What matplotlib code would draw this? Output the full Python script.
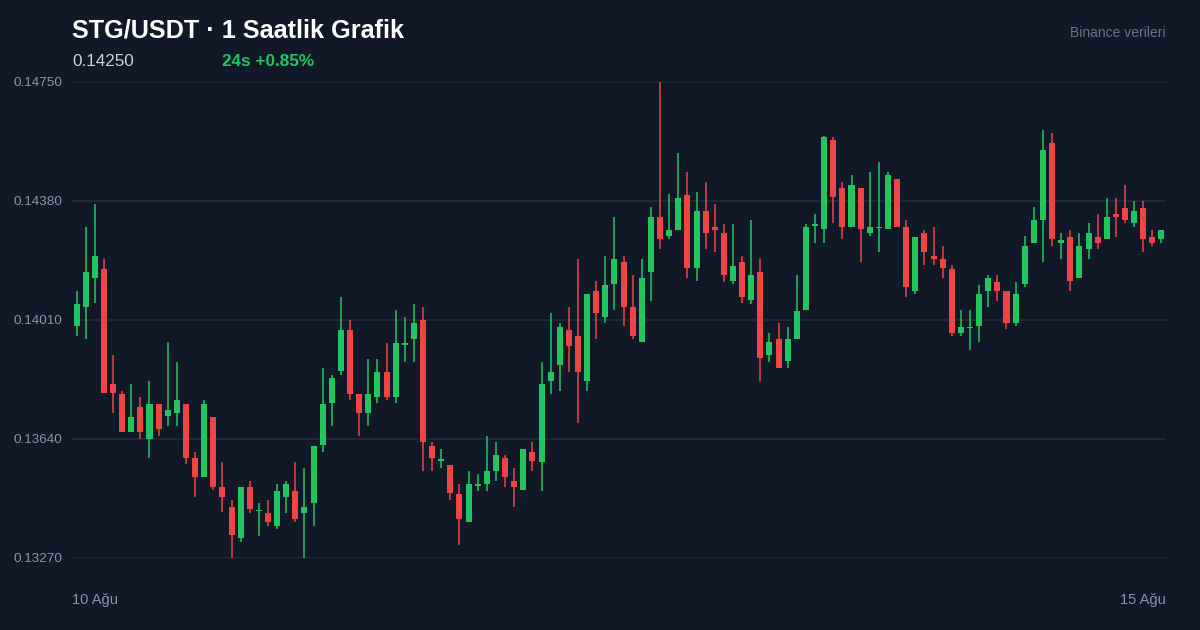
import matplotlib.pyplot as plt
import numpy as np

plt.rcParams['font.family'] = ['Liberation Sans', 'DejaVu Sans']

# hourly OHLC, 10 Ağu -> 15 Ağu (120 bars)
opens = [0.13991, 0.14050, 0.14140, 0.14168, 0.13811, 0.13780, 0.13662, 0.13739, 0.13640, 0.13749,
         0.13711, 0.13721, 0.13749, 0.13581, 0.13522, 0.13708, 0.13490, 0.13428, 0.13332, 0.13490,
         0.13416, 0.13410, 0.13369, 0.13459, 0.13478, 0.13410, 0.13441, 0.13621, 0.13752, 0.13851,
         0.13979, 0.13780, 0.13721, 0.13770, 0.13848, 0.13770, 0.13932, 0.13951, 0.14010, 0.13618,
         0.13571, 0.13559, 0.13469, 0.13382, 0.13494, 0.13500, 0.13540, 0.13581, 0.13509, 0.13481,
         0.13599, 0.13568, 0.13820, 0.13870, 0.13979, 0.13960, 0.13820, 0.14100, 0.14019, 0.14122,
         0.14190, 0.14050, 0.13941, 0.14159, 0.14330, 0.14271, 0.14290, 0.14399, 0.14172, 0.14349,
         0.14299, 0.14280, 0.14131, 0.14190, 0.14072, 0.14159, 0.13901, 0.13951, 0.13882, 0.13951,
         0.14041, 0.14302, 0.14293, 0.14570, 0.14420, 0.14299, 0.14420, 0.14280, 0.14296, 0.14293,
         0.14448, 0.14299, 0.14100, 0.14280, 0.14209, 0.14200, 0.14168, 0.13969, 0.13985, 0.13991,
         0.14100, 0.14128, 0.14100, 0.14000, 0.14122, 0.14249, 0.14321, 0.14560, 0.14249, 0.14268,
         0.14140, 0.14231, 0.14268, 0.14262, 0.14340, 0.14358, 0.14312, 0.14358, 0.14268, 0.14262]
highs = [0.14100, 0.14299, 0.14371, 0.14200, 0.13901, 0.13789, 0.13811, 0.13770, 0.13820, 0.13749,
         0.13941, 0.13879, 0.13749, 0.13599, 0.13761, 0.13708, 0.13568, 0.13450, 0.13490, 0.13509,
         0.13441, 0.13450, 0.13500, 0.13509, 0.13568, 0.13550, 0.13618, 0.13861, 0.13839, 0.14081,
         0.14010, 0.13780, 0.13889, 0.13889, 0.13938, 0.14041, 0.14019, 0.14060, 0.14050, 0.13630,
         0.13609, 0.13559, 0.13500, 0.13540, 0.13531, 0.13649, 0.13630, 0.13590, 0.13550, 0.13609,
         0.13630, 0.13879, 0.14032, 0.14000, 0.14050, 0.14200, 0.14091, 0.14131, 0.14209, 0.14330,
         0.14209, 0.14150, 0.14200, 0.14361, 0.14750, 0.14402, 0.14529, 0.14470, 0.14408, 0.14439,
         0.14371, 0.14308, 0.14308, 0.14209, 0.14321, 0.14200, 0.13969, 0.14000, 0.13988, 0.14150,
         0.14308, 0.14340, 0.14582, 0.14579, 0.14439, 0.14461, 0.14420, 0.14470, 0.14501, 0.14470,
         0.14448, 0.14321, 0.14268, 0.14290, 0.14299, 0.14240, 0.14181, 0.14041, 0.14041, 0.14119,
         0.14150, 0.14150, 0.14100, 0.14128, 0.14271, 0.14361, 0.14601, 0.14591, 0.14280, 0.14290,
         0.14280, 0.14312, 0.14340, 0.14389, 0.14389, 0.14430, 0.14380, 0.14380, 0.14290, 0.14290]
lows = [0.13960, 0.13951, 0.14063, 0.13783, 0.13721, 0.13662, 0.13662, 0.13640, 0.13581, 0.13649,
        0.13680, 0.13680, 0.13562, 0.13459, 0.13522, 0.13481, 0.13413, 0.13270, 0.13319, 0.13410,
        0.13338, 0.13369, 0.13360, 0.13410, 0.13382, 0.13270, 0.13369, 0.13599, 0.13680, 0.13839,
        0.13761, 0.13649, 0.13680, 0.13752, 0.13761, 0.13752, 0.13879, 0.13879, 0.13540, 0.13540,
        0.13550, 0.13450, 0.13310, 0.13382, 0.13478, 0.13478, 0.13509, 0.13490, 0.13428, 0.13481,
        0.13540, 0.13478, 0.13780, 0.13789, 0.13848, 0.13690, 0.13789, 0.13951, 0.14000, 0.14041,
        0.13991, 0.13951, 0.13941, 0.14069, 0.14231, 0.14262, 0.14290, 0.14140, 0.14131, 0.14231,
        0.14221, 0.14128, 0.14122, 0.14063, 0.14060, 0.13820, 0.13879, 0.13861, 0.13861, 0.13951,
        0.14041, 0.14249, 0.14249, 0.14312, 0.14262, 0.14299, 0.14190, 0.14271, 0.14221, 0.14293,
        0.14299, 0.14081, 0.14091, 0.14181, 0.14181, 0.14140, 0.13960, 0.13960, 0.13917, 0.13941,
        0.14050, 0.14069, 0.13982, 0.13991, 0.14112, 0.14249, 0.14190, 0.14240, 0.14200, 0.14100,
        0.14140, 0.14200, 0.14231, 0.14262, 0.14268, 0.14312, 0.14299, 0.14221, 0.14240, 0.14249]
closes = [0.14060, 0.14159, 0.14209, 0.13783, 0.13783, 0.13662, 0.13708, 0.13662, 0.13749, 0.13671,
          0.13730, 0.13761, 0.13581, 0.13522, 0.13749, 0.13490, 0.13459, 0.13341, 0.13490, 0.13422,
          0.13419, 0.13382, 0.13478, 0.13500, 0.13391, 0.13428, 0.13618, 0.13749, 0.13829, 0.13979,
          0.13780, 0.13721, 0.13780, 0.13848, 0.13770, 0.13938, 0.13938, 0.14000, 0.13630, 0.13581,
          0.13578, 0.13472, 0.13391, 0.13500, 0.13500, 0.13540, 0.13590, 0.13522, 0.13490, 0.13609,
          0.13571, 0.13811, 0.13848, 0.13988, 0.13929, 0.13848, 0.14091, 0.14032, 0.14119, 0.14200,
          0.14050, 0.13960, 0.14140, 0.14330, 0.14262, 0.14290, 0.14389, 0.14172, 0.14349, 0.14280,
          0.14290, 0.14150, 0.14178, 0.14081, 0.14150, 0.13892, 0.13941, 0.13861, 0.13951, 0.14038,
          0.14299, 0.14308, 0.14579, 0.14392, 0.14299, 0.14430, 0.14293, 0.14299, 0.14299, 0.14461,
          0.14299, 0.14112, 0.14268, 0.14221, 0.14200, 0.14172, 0.13969, 0.13988, 0.13988, 0.14091,
          0.14140, 0.14100, 0.14000, 0.14091, 0.14240, 0.14321, 0.14539, 0.14262, 0.14259, 0.14131,
          0.14240, 0.14280, 0.14249, 0.14330, 0.14330, 0.14321, 0.14349, 0.14262, 0.14249, 0.14290]

y_ticks = [0.13270, 0.13640, 0.14010, 0.14380, 0.14750]
x_labels = ['10 Ağu', '15 Ağu']

bg = '#111827'
up_col = '#22c55e'
down_col = '#ef4444'

fig = plt.figure(figsize=(12, 6.3), dpi=100, facecolor=bg)
ax = fig.add_axes([0.06, 0.1143, 0.9117, 0.7556], facecolor=bg)

o = np.array(opens)
h = np.array(highs)
l = np.array(lows)
c = np.array(closes)
x = np.arange(len(o))
colors = np.where(c >= o, up_col, down_col)

ax.vlines(x, l, h, colors=colors, linewidth=1.1, zorder=2)
body = np.maximum(np.abs(c - o), 0.00005)
bottom = np.minimum(o, c) - (body - np.abs(c - o)) / 2
ax.bar(x, body, bottom=bottom, width=0.66, color=colors, zorder=3)

ax.set_xlim(-0.5, len(o) - 0.5)
ax.set_ylim(y_ticks[0], y_ticks[-1])
ax.set_yticks(y_ticks)
ax.set_yticklabels([f'{v:.5f}' for v in y_ticks])
ax.set_xticks([])
ax.tick_params(axis='y', length=0, pad=7, labelsize=9.7, labelcolor='#8b95a5')
ax.grid(axis='y', color='#222c3b', linewidth=1.2, zorder=0)
for s in ax.spines.values():
    s.set_visible(False)

ax.text(0, -0.089, x_labels[0], transform=ax.transAxes, ha='left', va='center',
        fontsize=10.5, color='#8b95a5')
ax.text(1, -0.089, x_labels[1], transform=ax.transAxes, ha='right', va='center',
        fontsize=10.5, color='#8b95a5')

fig.text(0.06, 0.951, 'STG/USDT · 1 Saatlik Grafik', ha='left', va='center',
         fontsize=18.2, fontweight='bold', color='#ffffff')
fig.text(0.06, 0.903, '0.14250', ha='left', va='center', fontsize=12.3, color='#cbd2dc')
fig.text(0.185, 0.903, '24s +0.85%', ha='left', va='center', fontsize=12.3,
         fontweight='bold', color=up_col)
fig.text(0.9717, 0.947, 'Binance verileri', ha='right', va='center', fontsize=10,
         color='#6b7485')

fig.savefig('out.png', dpi=100, facecolor=bg)
